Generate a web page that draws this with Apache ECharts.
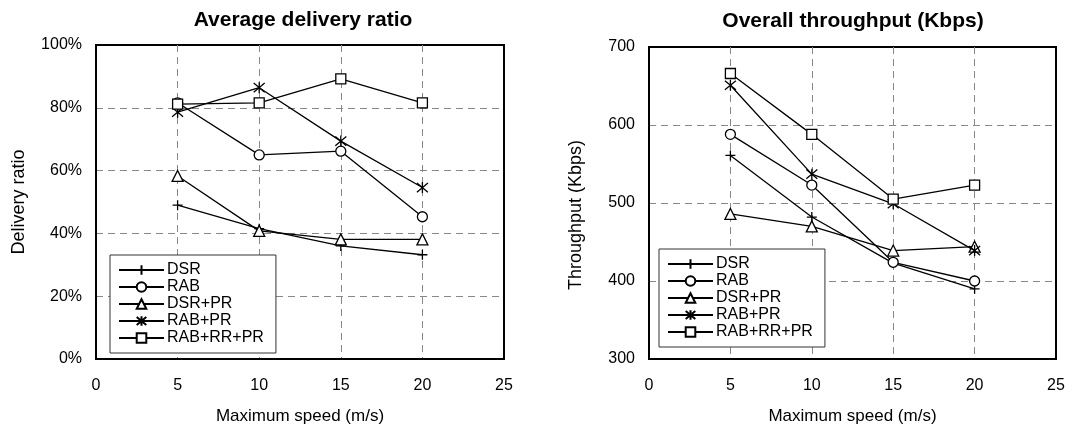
<!DOCTYPE html>
<html>
<head><meta charset="utf-8"></head>
<script type="text/javascript" src="https://cdn.jsdelivr.net/npm/echarts@6/dist/echarts.min.js"></script>
<body style="margin:0;background:#fff;">
<div id="main" style="width:1091px;height:424px;"></div>
<script type="text/javascript">
// x values (maximum speed, m/s)
var speeds = [5, 10, 15, 20]
var seriesNames = ['DSR', 'RAB', 'DSR+PR', 'RAB+PR', 'RAB+RR+PR']

// average delivery ratio (%)
var ratioDSR = [49, 41.5, 36, 33.2]
var ratioRAB = [81.6, 65, 66.2, 45.3]
var ratioDSRPR = [58.3, 40.8, 38.1, 38.1]
var ratioRABPR = [78.6, 86.4, 69.4, 54.6]
var ratioRABRRPR = [81.2, 81.6, 89.2, 81.6]

// overall throughput (Kbps)
var tpDSR = [561, 482, 423, 390]
var tpRAB = [588, 523, 424, 400]
var tpDSRPR = [486, 470, 439, 444]
var tpRABPR = [651, 537, 499, 439]
var tpRABRRPR = [666, 588, 505, 523]

var plusPath = 'path://M5,0 L5,10 M0,5 L10,5'
var starPath = 'path://M0,0 L10,10 M10,0 L0,10 M5,-1 L5,11'
var symbols = [plusPath, 'circle', 'triangle', starPath, 'rect']
var sizes = [10, 10, 11, 11, 10]

var font = 'Liberation Sans, Arial, sans-serif'

function pairs(ys) {
    var out = []
    for (var i = 0; i < speeds.length; i++) out.push([speeds[i], ys[i]])
    return out
}

function makeSeries(idx, arrs) {
    var list = []
    for (var i = 0; i < arrs.length; i++) {
        list.push({
            name: seriesNames[i],
            type: 'line',
            xAxisIndex: idx,
            yAxisIndex: idx,
            data: pairs(arrs[i]),
            symbol: symbols[i],
            symbolSize: sizes[i],
            showAllSymbol: true,
            lineStyle: {color: '#000', width: 1.3},
            itemStyle: {color: '#fff', borderColor: '#000', borderWidth: 1.3},
            emphasis: {disabled: true},
            z: 3 + i
        })
    }
    return list
}

function xAxisOf(idx) {
    return {
        gridIndex: idx, type: 'value', min: 0, max: 25, interval: 5,
        name: 'Maximum speed (m/s)', nameLocation: 'middle', nameGap: 49,
        nameTextStyle: {color: '#000', fontSize: 17, fontFamily: font},
        axisLine: {show: true, lineStyle: {color: '#000', width: 2}},
        axisTick: {show: false},
        axisLabel: {color: '#000', fontSize: 16, fontFamily: font, margin: 19},
        splitLine: {show: true, showMinLine: false, showMaxLine: false,
            lineStyle: {color: '#888', type: [7, 5], width: 1}}
    }
}

function legendOf(left, top) {
    return {
        orient: 'vertical', left: left, top: top,
        data: seriesNames,
        itemWidth: 45, itemHeight: 12, itemGap: 1,
        padding: [7, 12, 7, 8],
        borderColor: '#333', borderWidth: 1,
        backgroundColor: '#fff',
        selectedMode: false,
        textStyle: {color: '#000', fontSize: 16, fontFamily: font, padding: [0, 0, 0, -2]}
    }
}

var myChart = echarts.init(document.getElementById('main'))
myChart.setOption({
    animation: false,
    title: [
        {text: 'Average delivery ratio', left: 298, top: 5, textAlign: 'center',
            textStyle: {fontSize: 21, fontWeight: 'bold', color: '#000', fontFamily: font}},
        {text: 'Overall throughput (Kbps)', left: 848, top: 6, textAlign: 'center',
            textStyle: {fontSize: 21, fontWeight: 'bold', color: '#000', fontFamily: font}}
    ],
    legend: [legendOf(110, 255), legendOf(659, 249)],
    grid: [
        {left: 96, top: 45, width: 408, height: 314, show: true, borderColor: '#000', borderWidth: 2,
            outerBoundsMode: 'none', containLabel: false},
        {left: 649, top: 47, width: 407, height: 312, show: true, borderColor: '#000', borderWidth: 2,
            outerBoundsMode: 'none', containLabel: false}
    ],
    xAxis: [xAxisOf(0), xAxisOf(1)],
    yAxis: [
        {
            gridIndex: 0, type: 'value', min: 0, max: 100, interval: 20,
            name: 'Delivery ratio', nameLocation: 'middle', nameGap: 68,
            nameTextStyle: {color: '#000', fontSize: 18, fontFamily: font},
            axisLine: {show: true, lineStyle: {color: '#000', width: 2}},
            axisTick: {show: false},
            axisLabel: {color: '#000', fontSize: 16, fontFamily: font, margin: 14, formatter: '{value}%'},
            splitLine: {show: true, showMinLine: false, showMaxLine: false,
                lineStyle: {color: '#888', type: [7, 5], width: 1}}
        },
        {
            gridIndex: 1, type: 'value', min: 300, max: 700, interval: 100,
            name: 'Throughput (Kbps)', nameLocation: 'middle', nameGap: 64,
            nameTextStyle: {color: '#000', fontSize: 18, fontFamily: font, padding: [0, 24, 0, 0]},
            axisLine: {show: true, lineStyle: {color: '#000', width: 2}},
            axisTick: {show: false},
            axisLabel: {color: '#000', fontSize: 16, fontFamily: font, margin: 14},
            splitLine: {show: true, showMinLine: false, showMaxLine: false,
                lineStyle: {color: '#888', type: [7, 5], width: 1}}
        }
    ],
    series: makeSeries(0, [ratioDSR, ratioRAB, ratioDSRPR, ratioRABPR, ratioRABRRPR])
        .concat(makeSeries(1, [tpDSR, tpRAB, tpDSRPR, tpRABPR, tpRABRRPR]))
})
</script>
</body>
</html>
